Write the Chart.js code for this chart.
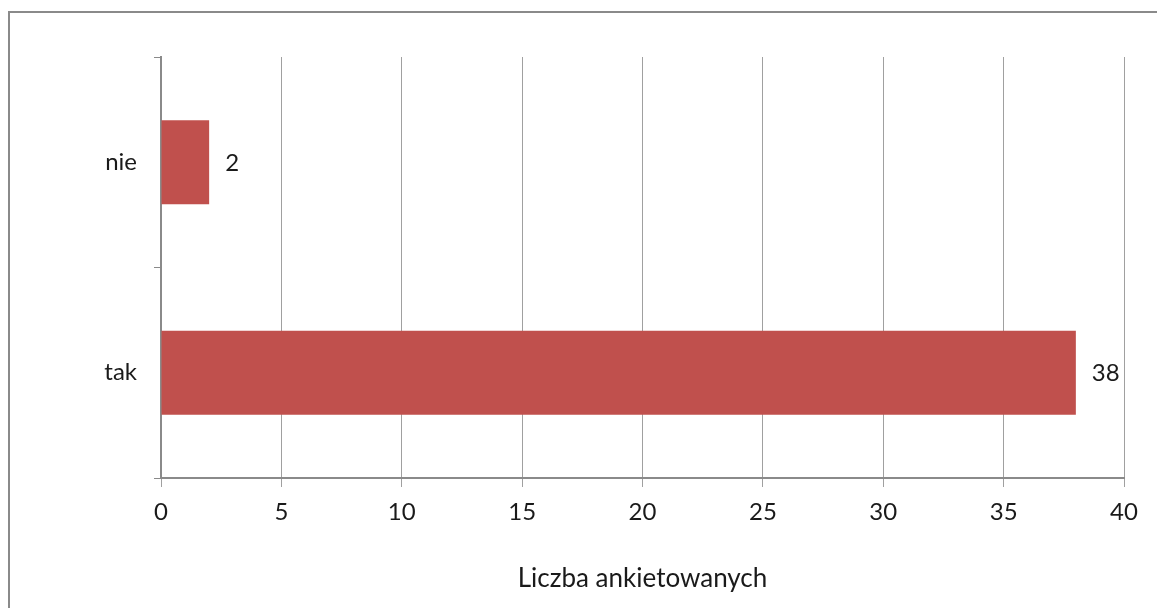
<!DOCTYPE html>
<html>
<head>
<meta charset="utf-8">
<script src="https://cdn.jsdelivr.net/npm/chart.js@4"></script>
<style>
html,body{margin:0;padding:0;background:#fff;overflow:hidden;width:1157px;height:608px;}
#frame{position:absolute;left:8px;top:11px;width:1200px;height:700px;border:2px solid #8a8a8a;box-sizing:border-box;}
#wrap{position:absolute;left:0;top:0;width:1157px;height:608px;}
</style>
</head>
<body>
<div id="frame"></div>
<div id="wrap"><canvas id="c" width="1157" height="608"></canvas></div>
<script>
const categories = ["nie", "tak"];
const values = [2, 38];
const xTicks = [0, 5, 10, 15, 20, 25, 30, 35, 40];
const axisTitle = "Liczba ankietowanych";

const FONT = "Lato, 'Open Sans', sans-serif";

const dataLabels = {
  id: 'dataLabels',
  afterDatasetsDraw(chart) {
    const ctx = chart.ctx;
    const meta = chart.getDatasetMeta(0);
    ctx.save();
    ctx.font = "24px " + FONT;
    ctx.fillStyle = "#1a1a1a";
    ctx.textAlign = "left";
    ctx.textBaseline = "middle";
    meta.data.forEach((bar, i) => {
      ctx.fillText(String(values[i]), bar.x + 16, bar.y + 1);
    });
    ctx.restore();
  }
};

new Chart(document.getElementById('c'), {
  type: 'bar',
  data: {
    labels: categories,
    datasets: [{
      data: values,
      backgroundColor: '#C0504D',
      borderWidth: 0,
      barPercentage: 0.4,
      categoryPercentage: 1.0
    }]
  },
  options: {
    indexAxis: 'y',
    responsive: false,
    animation: false,
    events: [],
    layout: { padding: { left: 0, right: 33, top: 57, bottom: 0 } },
    plugins: { legend: { display: false }, tooltip: { enabled: false } },
    scales: {
      x: {
        min: 0, max: 40,
        afterBuildTicks(scale) { scale.ticks = xTicks.map(v => ({ value: v })); },
        afterFit(scale) { scale.height = 608 - 478; },
        grid: { color: '#a0a0a0', lineWidth: 1, tickLength: 9, drawTicks: true },
        border: { color: '#8a8a8a', width: 2 },
        ticks: { font: { family: FONT, size: 24 }, color: '#1a1a1a', padding: 11, maxRotation: 0 },
        title: { display: true, text: axisTitle, font: { family: FONT, size: 26 }, color: '#1a1a1a', padding: { top: 0, bottom: 14 } }
      },
      y: {
        afterFit(scale) { scale.width = 161; },
        grid: { display: true, drawOnChartArea: false, offset: true, tickLength: 7, color: '#8a8a8a' },
        border: { color: '#8a8a8a', width: 2 },
        ticks: { font: { family: FONT, size: 24 }, color: '#1a1a1a', padding: 17 }
      }
    }
  },
  plugins: [dataLabels]
});
</script>
</body>
</html>
